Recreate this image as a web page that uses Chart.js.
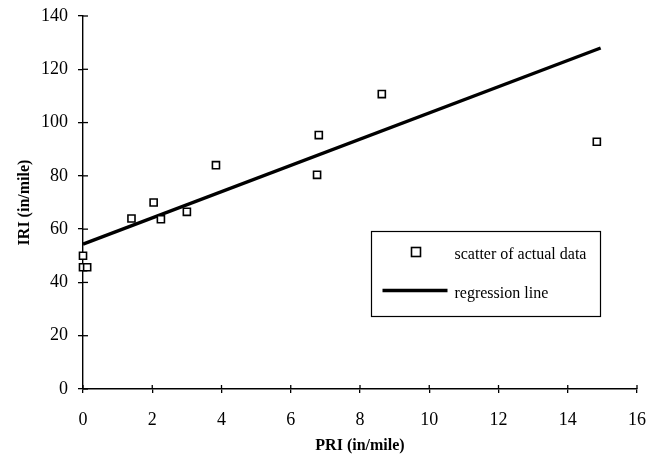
<!DOCTYPE html>
<html><head><meta charset="utf-8">
<script src="https://cdn.jsdelivr.net/npm/chart.js@4/dist/chart.umd.min.js"></script>
<style>html,body{margin:0;padding:0;background:#fff}#wrap{width:662px;height:457px}</style>
</head><body><div id="wrap"><canvas id="c" width="662" height="457"></canvas></div>
<script>
const pri = [0, 0, 0.12, 1.4, 2.04, 2.25, 3.0, 3.84, 6.76, 6.81, 8.63, 14.84];
const iri = [50, 45.7, 45.7, 64, 70, 63.7, 66.5, 84, 80.4, 95.3, 110.7, 92.8];
const regX = [0, 14.95];
const regY = [54.4, 128];
const xTicks = [0, 2, 4, 6, 8, 10, 12, 14, 16];
const yTicks = [0, 20, 40, 60, 80, 100, 120, 140];
const legendLabels = ['scatter of actual data', 'regression line'];

const serif = "'Liberation Serif', 'DejaVu Serif', serif";

const crossTicks = {
  id: 'crossTicks',
  afterDraw(chart) {
    const ctx = chart.ctx, xs = chart.scales.x, ys = chart.scales.y;
    ctx.save();
    ctx.strokeStyle = '#000'; ctx.lineWidth = 1.3;
    const ax = xs.left, ay = ys.bottom;
    yTicks.forEach(v => { const p = ys.getPixelForValue(v); ctx.beginPath(); ctx.moveTo(ax, p); ctx.lineTo(ax + 5, p); ctx.stroke(); });
    xTicks.forEach(v => { const p = xs.getPixelForValue(v); ctx.beginPath(); ctx.moveTo(p, ay); ctx.lineTo(p, ay - 4); ctx.stroke(); });
    // legend box
    const bx = Math.round(xs.getPixelForValue(8.33)) + 0.5, by = Math.round(ys.getPixelForValue(59.3)) + 0.5;
    const bw = 229, bh = 85;
    ctx.lineWidth = 1.2; ctx.strokeRect(bx, by, bw, bh);
    // marker
    ctx.fillStyle = '#fff'; ctx.lineWidth = 1.6;
    ctx.fillRect(bx + 40, by + 16, 9, 9); ctx.strokeRect(bx + 40, by + 16, 9, 9);
    // line sample
    ctx.lineWidth = 3.3; ctx.beginPath(); ctx.moveTo(bx + 11, by + 59); ctx.lineTo(bx + 76, by + 59); ctx.stroke();
    ctx.fillStyle = '#000'; ctx.font = '16px ' + serif; ctx.textBaseline = 'middle'; ctx.textAlign = 'left';
    ctx.fillText(legendLabels[0], bx + 83, by + 23);
    ctx.fillText(legendLabels[1], bx + 83, by + 62);
    ctx.restore();
  }
};

new Chart(document.getElementById('c'), {
  type: 'scatter',
  data: {
    datasets: [
      {
        label: legendLabels[0],
        data: pri.map((x, i) => ({x, y: iri[i]})),
        pointStyle: 'rect', pointRadius: 5, pointBorderWidth: 1.6,
        pointBorderColor: '#000', pointBackgroundColor: '#fff', clip: false, order: 0
      },
      {
        label: legendLabels[1], type: 'line',
        data: regX.map((x, i) => ({x, y: regY[i]})),
        borderColor: '#000', borderWidth: 3.4, pointRadius: 0, fill: false, clip: false, order: 1
      }
    ]
  },
  options: {
    responsive: false, animation: false, devicePixelRatio: 1,
    layout: { padding: { left: 0, right: 24, top: 16, bottom: 0 } },
    plugins: { legend: { display: false }, tooltip: { enabled: false } },
    scales: {
      x: {
        type: 'linear', min: 0, max: 16,
        afterBuildTicks: s => { s.ticks = xTicks.map(v => ({value: v})); },
        afterFit: s => { s.height = 68; },
        grid: { display: true, drawOnChartArea: false, drawTicks: true, tickLength: 4, color: '#000', lineWidth: 1.3 },
        border: { display: true, color: '#000', width: 1.4 },
        ticks: { color: '#000', font: { family: serif, size: 18 }, padding: 16, maxRotation: 0 },
        title: { display: true, text: 'PRI (in/mile)', color: '#000', font: { family: serif, size: 16, weight: 'bold' }, padding: { top: 0, bottom: 2 } }
      },
      y: {
        type: 'linear', min: 0, max: 140,
        afterBuildTicks: s => { s.ticks = yTicks.map(v => ({value: v})); },
        afterFit: s => { s.width = 83; s.paddingTop = 4; s.paddingBottom = 4; },
        grid: { display: true, drawOnChartArea: false, drawTicks: true, tickLength: 5, color: '#000', lineWidth: 1.3 },
        border: { display: true, color: '#000', width: 1.4 },
        ticks: { color: '#000', font: { family: serif, size: 18 }, padding: 10 },
        title: { display: true, text: 'IRI (in/mile)', color: '#000', font: { family: serif, size: 16, weight: 'bold' }, padding: { top: 15, bottom: 0 } }
      }
    }
  },
  plugins: [crossTicks]
});
</script></body></html>
